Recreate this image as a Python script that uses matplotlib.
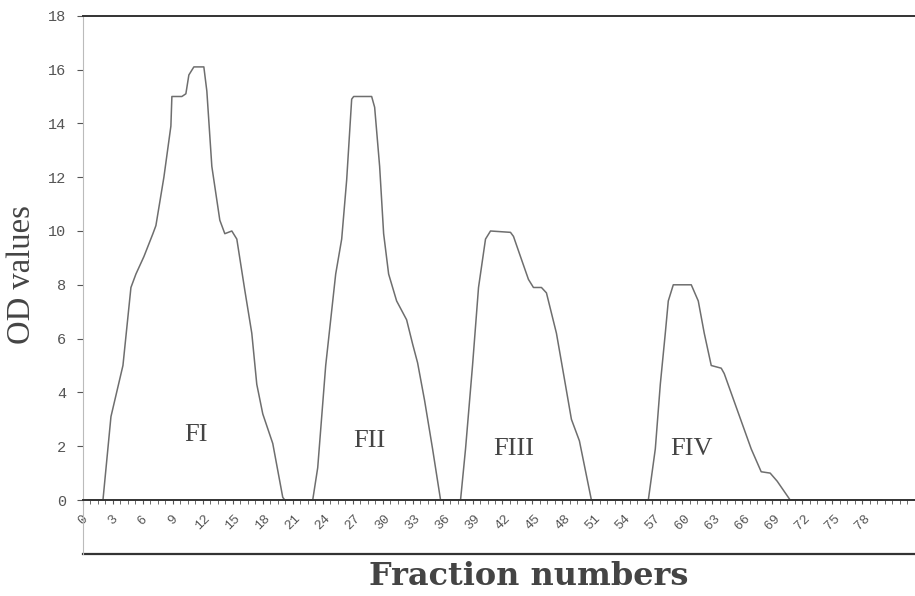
import matplotlib
matplotlib.use("Agg")
import matplotlib.pyplot as plt
from matplotlib.ticker import MultipleLocator

# Fraction numbers (x) and OD values (y)
fraction = [0.5, 2.0, 2.8, 4.0, 4.8, 5.3, 6.1, 7.0, 7.3, 8.1, 8.8, 8.9, 9.9, 10.3,
            10.6, 11.1, 12.1, 12.4, 12.9, 13.7, 14.2, 14.9, 15.4, 16.2, 16.9, 17.4,
            18.0, 19.0, 20.0, 20.2, 23.0, 23.5, 24.3, 25.3, 25.9, 26.4, 26.9, 27.1,
            28.9, 29.2, 29.7, 30.1, 30.6, 31.4, 32.4, 33.0, 33.5, 34.2, 35.0, 35.8,
            37.8, 38.3, 39.0, 39.6, 40.3, 40.8, 42.8, 43.1, 43.8, 44.6, 45.1, 45.9,
            46.4, 47.4, 48.2, 48.9, 49.7, 50.9, 56.6, 57.3, 57.8, 58.3, 58.6, 59.1,
            60.9, 61.6, 62.2, 62.9, 63.9, 64.2, 65.5, 66.9, 67.9, 68.8, 69.5, 70.8,
            80.0]
od_values = [0.0, 0.0, 3.1, 5.0, 7.9, 8.4, 9.05, 9.9, 10.2, 12.0, 13.9, 15.0, 15.0, 15.1,
             15.8, 16.1, 16.1, 15.2, 12.4, 10.4, 9.9, 10.0, 9.7, 7.8, 6.2, 4.3,
             3.2, 2.1, 0.1, 0.0, 0.0, 1.2, 5.0, 8.4, 9.7, 11.9, 14.9, 15.0,
             15.0, 14.6, 12.4, 9.9, 8.4, 7.4, 6.7, 5.8, 5.1, 3.7, 1.9, 0.0,
             0.0, 1.9, 5.0, 7.9, 9.7, 10.0, 9.95, 9.8, 9.05, 8.2, 7.9, 7.9,
             7.7, 6.2, 4.5, 3.0, 2.2, 0.0, 0.0, 1.9, 4.3, 6.2, 7.4, 8.0,
             8.0, 7.4, 6.2, 5.0, 4.9, 4.7, 3.35, 1.9, 1.05, 1.0, 0.7, 0.0,
             0.0]

peak_labels = ["FI", "FII", "FIII", "FIV"]
peak_x = [11.3, 28.7, 43.1, 60.9]
peak_y = [2.4, 2.2, 1.9, 1.9]

xtick_values = list(range(0, 81, 3))
xtick_labels = [str(v) for v in xtick_values]
ytick_values = list(range(0, 19, 2))

fig = plt.figure(figsize=(9.15, 5.96), dpi=100)
ax = fig.add_axes([0.0907, 0.0708, 0.9093, 0.9027])

ax.plot(fraction, od_values, color="#6e6e6e", lw=1.1)

for lab, px, py in zip(peak_labels, peak_x, peak_y):
    ax.text(px, py, lab, fontsize=19, family="Liberation Serif",
            color="#444444", ha="center", va="center")

ax.set_xlim(0.9, 83.3)
ax.set_ylim(-2, 18)

ax.spines["bottom"].set_position(("data", 0))
ax.spines["bottom"].set_color("#333333")
ax.spines["bottom"].set_linewidth(1.4)
ax.spines["top"].set_color("#333333")
ax.spines["top"].set_linewidth(1.4)
ax.spines["right"].set_visible(False)
ax.spines["left"].set_color("#bbbbbb")
ax.spines["left"].set_linewidth(0.8)
ax.axhline(-2, color="#333333", lw=1.6, clip_on=False)

ax.set_xticks(xtick_values)
ax.set_xticklabels(xtick_labels, rotation=45, ha="center",
                   family="Liberation Mono", fontsize=9.5, color="#555555")
ax.xaxis.set_minor_locator(MultipleLocator(0.75))
ax.tick_params(axis="x", which="both", direction="out", length=3,
               color="#555555", pad=6)

ax.set_yticks(ytick_values)
ax.set_yticklabels([str(v) for v in ytick_values], family="Liberation Mono",
                   fontsize=11, color="#555555")
ax.tick_params(axis="y", direction="out", length=4, color="#555555", pad=8)

fig.text(0.024, 0.539, "OD values", rotation=90, ha="center", va="center",
         family="Liberation Serif", fontsize=23.5, color="#444444")
fig.text(0.578, 0.032, "Fraction numbers", ha="center", va="center",
         family="DejaVu Serif", fontweight="bold", fontsize=23, color="#444444")

fig.savefig("out.png", dpi=100)
